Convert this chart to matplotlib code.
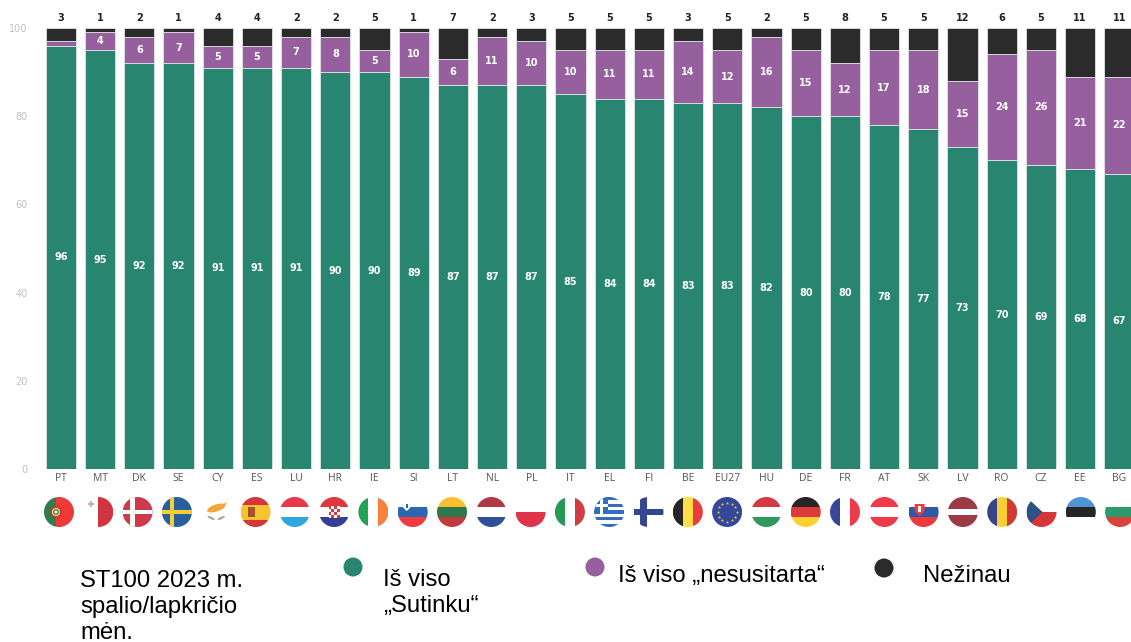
import matplotlib
matplotlib.use("Agg")
import matplotlib.pyplot as plt
import numpy as np
from matplotlib.patches import Circle, Ellipse, Polygon, Rectangle

countries = ["PT", "MT", "DK", "SE", "CY", "ES", "LU", "HR", "IE", "SI", "LT", "NL", "PL", "IT",
             "EL", "FI", "BE", "EU27", "HU", "DE", "FR", "AT", "SK", "LV", "RO", "CZ", "EE", "BG"]
agree = [96, 95, 92, 92, 91, 91, 91, 90, 90, 89, 87, 87, 87, 85,
         84, 84, 83, 83, 82, 80, 80, 78, 77, 73, 70, 69, 68, 67]
disagree = [1, 4, 6, 7, 5, 5, 7, 8, 5, 10, 6, 11, 10, 10,
            11, 11, 14, 12, 16, 15, 12, 17, 18, 15, 24, 26, 21, 22]
dont_know = [3, 1, 2, 1, 4, 4, 2, 2, 5, 1, 7, 2, 3, 5,
             5, 5, 3, 5, 2, 5, 8, 5, 5, 12, 6, 5, 11, 11]

GREEN = "#288570"
PURPLE = "#96609f"
DARK = "#2b2b2b"
W = "#ffffff"

# orientation, stripe colours, stripe weights
flags = {
    "PT": ("v", ["#2f7d4f", "#ee3b37"], [2, 3]),
    "MT": ("v", [W, "#d0353f"], [1, 1]),
    "DK": ("v", ["#cf3a4a"], [1]),
    "SE": ("v", ["#2b5f9b"], [1]),
    "CY": ("v", [W], [1]),
    "ES": ("h", ["#d2383a", "#f7c331", "#d2383a"], [1, 2, 1]),
    "LU": ("h", ["#e8394a", W, "#2fa6dc"], [1, 1, 1]),
    "HR": ("h", ["#dd3a3f", W, "#343f92"], [1, 1, 1]),
    "IE": ("v", ["#21a353", W, "#f5813a"], [1, 1, 1]),
    "SI": ("h", [W, "#2b68b4", "#ef3b3f"], [1, 1, 1]),
    "LT": ("h", ["#fbbf30", "#2c7a4b", "#c23a3d"], [1, 1, 1]),
    "NL": ("h", ["#b03a44", W, "#2f4f9a"], [1, 1, 1]),
    "PL": ("h", [W, "#e0344b"], [1, 1]),
    "IT": ("v", ["#259a55", W, "#d23c45"], [1, 1, 1]),
    "EL": ("h", ["#2f6fbd", W] * 4 + ["#2f6fbd"], [1] * 9),
    "FI": ("v", [W], [1]),
    "BE": ("v", ["#262626", "#fbdf45", "#ee3a43"], [1, 1, 1]),
    "EU27": ("v", ["#34479a"], [1]),
    "HU": ("h", ["#d43a40", W, "#2f9a5b"], [1, 1, 1]),
    "DE": ("h", ["#262626", "#dd3a3c", "#fcd02f"], [1, 1, 1]),
    "FR": ("v", ["#38469b", W, "#ef3a49"], [1, 1, 1]),
    "AT": ("h", ["#ee3a4a", W, "#ee3a4a"], [1, 1, 1]),
    "SK": ("h", [W, "#2b5aa8", "#ee3a3c"], [1, 1, 1]),
    "LV": ("h", ["#9c3a48", W, "#9c3a48"], [2, 1, 2]),
    "RO": ("v", ["#36448e", "#fbcf33", "#d23a3a"], [1, 1, 1]),
    "CZ": ("h", [W, "#d63638"], [1, 1]),
    "EE": ("h", ["#4f95d6", "#262626", W], [1, 1, 1]),
    "BG": ("h", [W, "#2b9a6c", "#d9433d"], [1, 1, 1]),
}

fig = plt.figure(figsize=(11.31, 6.42), dpi=100)
ax = fig.add_axes([41.4 / 1131, (642 - 469) / 642, 1 - 41.4 / 1131, 441 / 642])
x = np.arange(len(countries))
bar_w = 0.77
edge = dict(width=bar_w, edgecolor="#dfe6e4", linewidth=0.6)
b1 = np.array(agree)
b2 = b1 + np.array(disagree)
ax.bar(x, agree, color=GREEN, **edge)
ax.bar(x, disagree, bottom=b1, color=PURPLE, **edge)
ax.bar(x, dont_know, bottom=b2, color=DARK, **edge)

label_font = dict(family="DejaVu Sans", fontweight="bold", ha="center", va="center", fontsize=7)
for i in x:
    ax.text(i, agree[i] / 2, str(agree[i]), color="white", **label_font)
    # the 1 for PT does not fit, the source leaves it out
    if disagree[i] > 1:
        ax.text(i, b1[i] + disagree[i] / 2, str(disagree[i]), color="white", **label_font)
    ax.text(i, 102.2, str(dont_know[i]), color="#222222", clip_on=False, **label_font)

ax.set_xlim(-0.5, 27.3)
ax.set_ylim(0, 100)
ax.set_xticks(x)
ax.set_xticklabels(countries, fontsize=7.5, color="#555555", family="Open Sans")
ax.set_yticks(range(0, 101, 20))
ax.tick_params(axis="y", length=0, labelsize=7, labelcolor="#c9bdb4", pad=10)
ax.tick_params(axis="x", length=0, pad=3.2)
for s in ax.spines.values():
    s.set_visible(False)

# overlay in pixel coordinates for the flags and the pasted legend
fx = fig.add_axes([0, 0, 1, 1])
fx.set_xlim(0, 1131)
fx.set_ylim(642, 0)
fx.axis("off")
fx.patch.set_alpha(0)

R = 15
CY = 512


def add(patch, clip=None):
    fx.add_patch(patch)
    if clip is not None:
        patch.set_clip_path(clip)
    return patch


def cross(cx, color, clip, th=4.5, off=-5):
    add(Rectangle((cx - R, CY - th / 2), 2 * R, th, fc=color, ec="none"), clip)
    add(Rectangle((cx + off - th / 2, CY - R), th, 2 * R, fc=color, ec="none"), clip)


def shield(cx, cy, w, h, color, inner):
    fx.add_patch(Polygon([(cx - w / 2, cy - h / 2), (cx + w / 2, cy - h / 2), (cx + w / 2, cy + h * 0.1),
                          (cx, cy + h / 2), (cx - w / 2, cy + h * 0.1)], fc=color, ec="none"))
    fx.add_patch(Rectangle((cx - w / 6, cy - h / 3), w / 3, h / 2, fc=inner, ec="none"))


for i, code in enumerate(countries):
    cx = 59 + i * 39.3
    kind, colors, weights = flags[code]
    clip = Circle((cx, CY), R, transform=fx.transData)
    edges = np.cumsum([0] + weights) / sum(weights) * 2 * R - R
    for c, e0, e1 in zip(colors, edges[:-1], edges[1:]):
        if kind == "v":
            rect = Rectangle((cx + e0, CY - R), e1 - e0, 2 * R, fc=c, ec="none")
        else:
            rect = Rectangle((cx - R, CY + e0), 2 * R, e1 - e0, fc=c, ec="none")
        add(rect, clip)

    if code == "PT":
        fx.add_patch(Circle((cx - 3, CY), 5, fc="#f3d34a", ec="#b33", lw=1))
        fx.add_patch(Circle((cx - 3, CY), 2.2, fc=W, ec="#2a5a9b", lw=0.8))
    elif code == "MT":
        fx.add_patch(Rectangle((cx - 10, CY - 9), 6, 2, fc="#c9a9ae", ec="none"))
        fx.add_patch(Rectangle((cx - 8, CY - 11), 2, 6, fc="#c9a9ae", ec="none"))
    elif code == "DK":
        cross(cx, W, clip)
    elif code == "SE":
        cross(cx, "#f6cf36", clip)
    elif code == "CY":
        fx.add_patch(Ellipse((cx, CY - 4), 19, 7, angle=-18, fc="#f0a63c", ec="none"))
        fx.add_patch(Polygon([(cx + 4, CY - 6), (cx + 11, CY - 10), (cx + 7, CY - 3)], fc="#f0a63c", ec="none"))
        fx.add_patch(Ellipse((cx - 5, CY + 6), 8, 2.5, angle=25, fc="#9db596", ec="none"))
        fx.add_patch(Ellipse((cx + 5, CY + 6), 8, 2.5, angle=-25, fc="#9db596", ec="none"))
    elif code == "ES":
        fx.add_patch(Rectangle((cx - 8, CY - 5), 7, 10, fc="#a8502c", ec="none"))
    elif code == "HR":
        for row in range(4):
            for col in range(4):
                fc = "#dd3a3f" if (row + col) % 2 == 0 else W
                fx.add_patch(Rectangle((cx - 5.5 + col * 2.75, CY - 6 + row * 3), 2.75, 3, fc=fc, ec="none"))
    elif code == "SI":
        shield(cx - 6, CY - 5, 7, 8, W, "#2b68b4")
    elif code == "EL":
        add(Rectangle((cx - R, CY - R), 14, 16.5, fc="#2f6fbd", ec="none"), clip)
        add(Rectangle((cx - R, CY - R + 6.7), 14, 3, fc=W, ec="none"), clip)
        add(Rectangle((cx - R + 5.5, CY - R), 3, 16.5, fc=W, ec="none"), clip)
    elif code == "FI":
        cross(cx, "#34468f", clip, th=6.5, off=-5)
    elif code == "EU27":
        for a in np.arange(0, 2 * np.pi, np.pi / 6):
            fx.plot(cx + 9.5 * np.cos(a), CY + 9.5 * np.sin(a), "*", color="#e8c93c", ms=2.6, mew=0)
    elif code == "SK":
        shield(cx - 4, CY - 2, 10, 12, "#ef3b3f", W)
    elif code == "CZ":
        add(Polygon([(cx - R, CY - R), (cx + 1, CY), (cx - R, CY + R)], fc="#2c5286", ec="none"), clip)

# legend, pasted as plain slide text in the source
legend_font = dict(family="Liberation Sans", fontsize=17.2, color="black", va="center", ha="left", linespacing=1.25)
fx.text(80, 607, "ST100 2023 m.\nspalio/lapkričio\nmėn.", **legend_font)
fx.text(383, 593, "Iš viso\n„Sutinku“", **legend_font)
fx.text(618, 576, "Iš viso „nesusitarta“", **legend_font)
fx.text(923, 576, "Nežinau", **legend_font)
fx.add_patch(Circle((353, 567), 9.5, fc=GREEN, ec="none"))
fx.add_patch(Circle((595, 567), 9.5, fc=PURPLE, ec="none"))
fx.add_patch(Circle((884, 568), 9.5, fc=DARK, ec="none"))

fig.savefig("out.png", dpi=100)
